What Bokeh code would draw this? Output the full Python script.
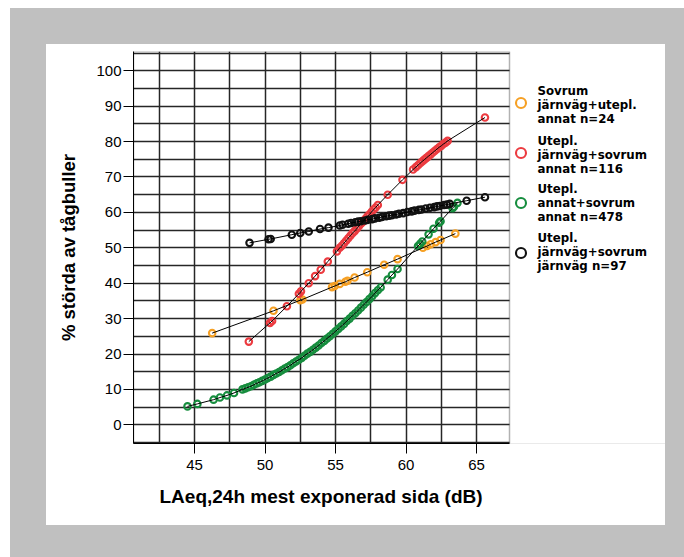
from bokeh.plotting import figure
from bokeh.models import FixedTicker, BoxAnnotation, Label, Legend, LegendItem, Range1d, Title
from bokeh.embed import file_html
from bokeh.resources import INLINE

# ---------------- data ----------------
orange_x = [46.25, 50.6, 52.5, 52.65, 54.75, 54.95, 55.3, 55.7, 55.85, 56.35, 57.25,
            58.45, 59.4, 61.2, 61.5, 61.75, 62.1, 62.45, 63.5]
orange_y = [25.9, 32.2, 35.2, 35.4, 38.9, 39.2, 39.8, 40.4, 40.7, 41.6, 43.1,
            45.2, 46.8, 50.0, 50.5, 51.0, 51.6, 52.2, 54.0]

red_x = [48.85, 50.35, 50.5, 51.55, 52.4, 52.55, 53.1, 53.55, 53.95, 54.45,
         55.1, 55.3, 55.45, 55.6, 55.75, 55.9, 56.05, 56.2, 56.35, 56.5, 56.65,
         56.8, 56.95, 57.1, 57.25, 57.4, 57.55, 57.7, 57.85, 58.0, 58.7, 59.75,
         60.5, 60.7, 60.85, 61.0, 61.15, 61.3, 61.45, 61.6, 61.75, 61.9, 62.05,
         62.2, 62.35, 62.5, 62.65, 62.8, 62.95, 65.6]
red_y = [23.5, 28.8, 29.3, 33.5, 37.0, 37.7, 40.0, 42.0, 43.8, 46.1,
         49.0, 50.0, 50.6, 51.3, 52.0, 52.7, 53.4, 54.1, 54.7, 55.4, 56.1,
         56.8, 57.4, 58.1, 58.8, 59.4, 60.1, 60.8, 61.4, 62.1, 65.0, 69.2,
         72.1, 72.8, 73.3, 73.9, 74.4, 74.9, 75.4, 75.9, 76.4, 76.9, 77.4,
         77.9, 78.4, 78.8, 79.3, 79.7, 80.2, 86.8]

green_x = [44.5, 45.2, 46.35, 46.8, 47.3, 47.8, 48.4, 48.6, 48.8, 49.0, 49.2, 49.4,
           49.6, 49.8, 50.0, 50.2, 50.4, 50.6, 50.8, 51.0, 51.2, 51.4, 51.6, 51.8,
           52.0, 52.2, 52.4, 52.6, 52.8, 53.0, 53.2, 53.4, 53.6, 53.8, 54.0, 54.2,
           54.4, 54.6, 54.8, 55.0, 55.2, 55.4, 55.6, 55.8, 56.0, 56.2, 56.4, 56.6,
           56.8, 57.0, 57.2, 57.4, 57.6, 57.8, 58.0, 58.2, 58.7, 59.0, 59.4, 60.85,
           61.0, 61.15, 61.6, 61.95, 62.35, 62.45, 63.3, 63.4, 63.65]
green_y = [5.2, 5.9, 7.1, 7.7, 8.3, 9.0, 10.0, 10.3, 10.6, 10.9, 11.3, 11.7,
           12.0, 12.4, 12.8, 13.2, 13.6, 14.1, 14.5, 14.9, 15.4, 15.9, 16.3, 16.8,
           17.4, 17.9, 18.4, 18.9, 19.5, 20.1, 20.6, 21.2, 21.8, 22.4, 23.1, 23.7,
           24.4, 25.0, 25.7, 26.4, 27.1, 27.8, 28.5, 29.3, 30.0, 30.8, 31.5, 32.3,
           33.1, 33.9, 34.7, 35.5, 36.3, 37.2, 38.0, 38.8, 41.0, 42.3, 44.0, 50.5,
           51.1, 51.8, 53.8, 55.4, 57.1, 57.5, 61.2, 61.6, 62.7]

black_x = [48.9, 50.25, 50.4, 51.9, 52.5, 53.1, 53.9, 54.5, 55.3, 55.5, 55.9, 56.1,
           56.4, 56.6, 56.8, 57.1, 57.3, 57.6, 57.8, 58.1, 58.3, 58.6, 58.8, 59.0,
           59.3, 59.5, 59.8, 60.1, 60.4, 60.6, 60.9, 61.1, 61.4, 61.7, 62.0, 62.2,
           62.4, 62.7, 62.9, 63.1, 64.3, 65.6]
black_y = [51.4, 52.4, 52.5, 53.7, 54.2, 54.6, 55.3, 55.7, 56.3, 56.5, 56.8, 57.0,
           57.2, 57.4, 57.5, 57.7, 57.9, 58.1, 58.3, 58.5, 58.7, 58.9, 59.1, 59.2,
           59.4, 59.6, 59.8, 60.1, 60.3, 60.5, 60.7, 60.8, 61.1, 61.3, 61.5, 61.7,
           61.8, 62.1, 62.2, 62.4, 63.3, 64.3]

series_colors = ["#f6a024", "#ec3b40", "#168d3e", "#111111"]
legend_lines = [["Sovrum", "järnväg+utepl.", "annat n=24"],
                ["Utepl.", "järnväg+sovrum", "annat n=116"],
                ["Utepl.", "annat+sovrum", "annat n=478"],
                ["Utepl.", "järnväg+sovrum", "järnväg n=97"]]
x_ticks = [45, 50, 55, 60, 65]
y_ticks = [0, 10, 20, 30, 40, 50, 60, 70, 80, 90, 100]
x_title = "LAeq,24h mest exponerad sida (dB)"
y_title = "% störda av tågbuller"

# ---------------- layout (page pixels) ----------------
FONT = "Liberation Sans"
GREY = "#c0c0c0"
PANEL_L, PANEL_T, PANEL_R, PANEL_B = 46, 44, 665, 525   # white panel = the figure
BOX_L, BOX_T, BOX_R, BOX_B = 133, 51, 509, 443          # bordered plot box
X0, X1 = 40.67, 67.34
Y0, Y1 = -5.28, 105.45
PX_PER_X = (BOX_R - BOX_L) / (X1 - X0)
PX_PER_Y = (BOX_B - BOX_T) / (Y1 - Y0)
FRAME_RIGHT_X = X0 + (PANEL_R - BOX_L) / PX_PER_X      # frame runs on under the legend

p = figure(width=PANEL_R - PANEL_L, height=PANEL_B - PANEL_T,
           x_range=Range1d(X0, FRAME_RIGHT_X), y_range=Range1d(Y0, Y1),
           output_backend="svg", toolbar_location=None,
           min_border_left=BOX_L - PANEL_L, min_border_right=0,
           min_border_top=BOX_T - PANEL_T, min_border_bottom=PANEL_B - BOX_B,
           background_fill_color="white", border_fill_color="white")
p.outline_line_color = None
# place the white panel on the page and surround it by the grey frame
p.margin = (PANEL_T, 0, 0, PANEL_L)
p.styles = {"box-shadow": "0 0 0 36px " + GREY}

p.xgrid.ticker = FixedTicker(ticks=[42.5 + 2.5 * i for i in range(10)])
p.ygrid.ticker = FixedTicker(ticks=[-5 + 5 * i for i in range(23)])
for g in (p.xgrid, p.ygrid):
    g.grid_line_color = "#262626"
    g.grid_line_width = 1.5

# white cover for the legend area (hides grid lines right of the plot box)
p.add_layout(BoxAnnotation(left=X1, fill_color="white", fill_alpha=1.0,
                           line_color=None, level="underlay"))
# plot box border
p.add_layout(BoxAnnotation(left=X0, right=X1, bottom=Y0, top=Y1, fill_alpha=0,
                           line_color="black", line_width=1.5, level="underlay"))

p.xaxis.ticker = FixedTicker(ticks=x_ticks)
p.yaxis.ticker = FixedTicker(ticks=y_ticks)
p.xaxis.bounds = (X0, X1)
for ax in (p.xaxis, p.yaxis):
    ax.axis_line_color = "black"
    ax.major_tick_line_color = "black"
    ax.major_tick_out = 10
    ax.major_tick_in = 0
    ax.minor_tick_line_color = None
    ax.major_label_text_font = FONT
    ax.major_label_text_font_size = "15px"
    ax.major_label_text_color = "black"
    ax.axis_label_text_font = FONT
    ax.axis_label_text_font_style = "bold"
    ax.axis_label_text_color = "black"
p.yaxis.axis_label = y_title
p.yaxis.axis_label_text_font_size = "18.5px"
p.xaxis.major_label_standoff = 6
p.yaxis.major_label_standoff = 2
p.yaxis.axis_label_standoff = 14

# x title under the plot box (left aligned with an offset)
p.add_layout(Title(text=x_title, align="left", offset=159 - BOX_L,
                   text_font=FONT, text_font_style="bold", text_font_size="19px",
                   text_color="black", standoff=22), "below")

all_series = [(orange_x, orange_y), (red_x, red_y), (green_x, green_y), (black_x, black_y)]
scatters = []
for (xs, ys), c in zip(all_series, series_colors):
    scatters.append(p.scatter(xs, ys, marker="circle", size=6.5, fill_color=None,
                              line_color=c, line_width=2.1))
for xs, ys in all_series:
    p.line(xs, ys, line_color="black", line_width=1)

# legend texts
def data_x(px):
    return X0 + (px - BOX_L) / PX_PER_X

def data_y(py):
    return Y0 + (BOX_B - py) / PX_PER_Y

group_tops = [90, 140, 188.3, 237.3]
for top, lines in zip(group_tops, legend_lines):
    for i, t in enumerate(lines):
        p.add_layout(Label(x=data_x(537), y=data_y(top + i * 14.3), text=t,
                           text_font="DejaVu Sans", text_font_style="bold",
                           text_font_size="11.8px", text_baseline="middle",
                           text_align="left", text_color="black"))

# legend markers
items = [LegendItem(label=" ", renderers=[r]) for r in scatters]
legend = Legend(items=items, location=(375, 177), orientation="vertical",
                glyph_width=25, glyph_height=27, label_height=27, spacing=23,
                padding=0, margin=0, border_line_color=None, background_fill_alpha=0,
                label_text_font_size="1px", label_width=1, label_standoff=0)
p.add_layout(legend)

open("out.html", "w").write(file_html(p, INLINE))
